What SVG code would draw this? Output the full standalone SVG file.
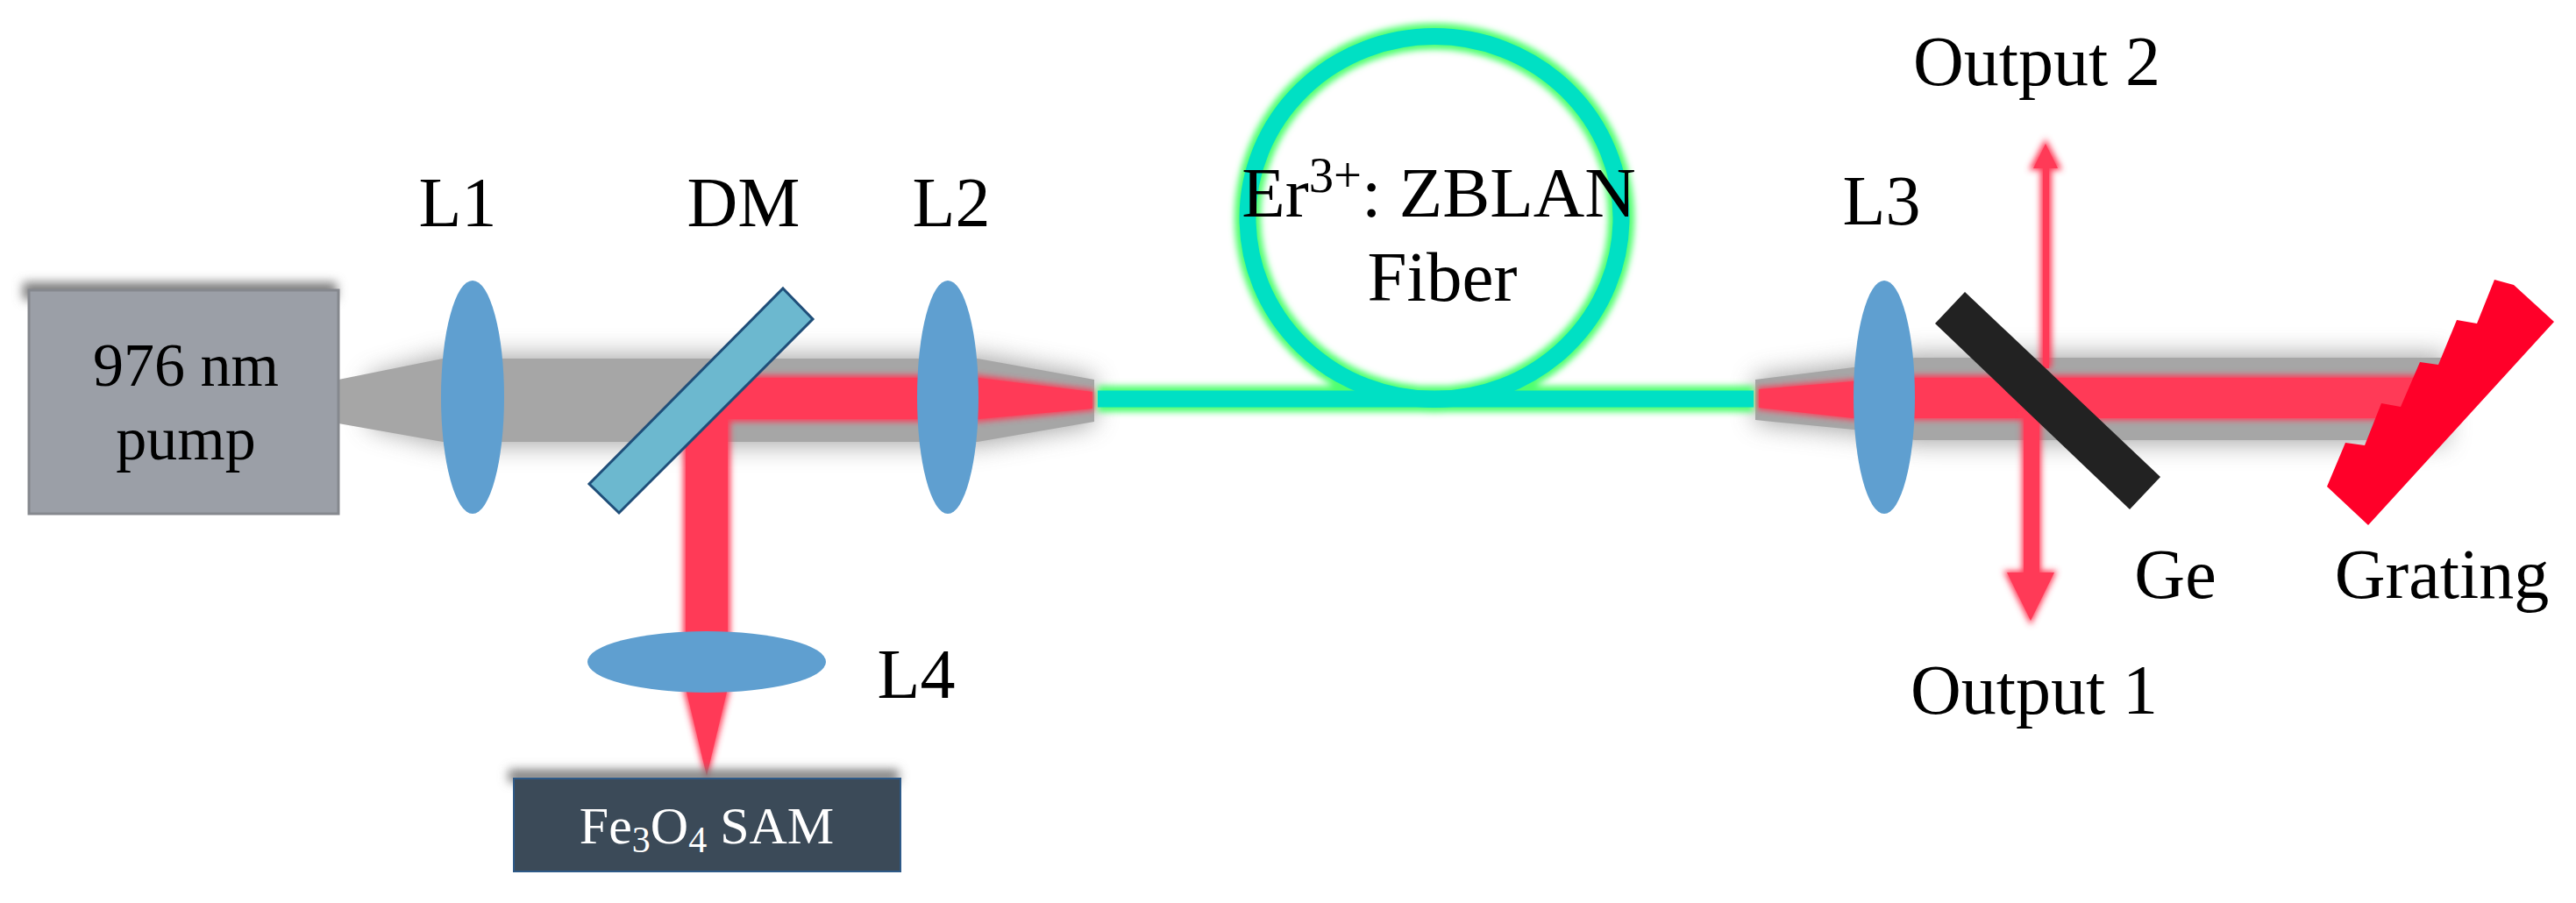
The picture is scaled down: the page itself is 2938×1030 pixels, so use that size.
<svg xmlns="http://www.w3.org/2000/svg" width="2938" height="1030" viewBox="0 0 2938 1030">
<style>
text{font-family:"Liberation Serif","Times New Roman",serif;fill:#000;text-anchor:middle}
.lens{fill:#5f9fd0}
.grey{fill:#a6a6a6}
.red{fill:#ff3a57}
.fib{fill:none;stroke:#00e0c4;stroke-width:19}
.glow{fill:none;stroke:#50ff70;stroke-width:30}
.sub{font-size:70%}
.lab{font-size:80px}
</style>
<defs>
<filter id="soft" x="-20%" y="-60%" width="140%" height="220%"><feGaussianBlur stdDeviation="3.5"/></filter>
<filter id="shadow" x="-10%" y="-80%" width="120%" height="260%"><feGaussianBlur stdDeviation="14"/></filter>
<filter id="boxshadow" x="-10%" y="-100%" width="120%" height="300%"><feGaussianBlur stdDeviation="6"/></filter>
</defs>
<rect width="2938" height="1030" fill="#fff"/>
<g id="connectors">
<g id="shadows" filter="url(#shadow)" fill="#8a8a8a" opacity="0.75">
<path d="M420 430L505 405H1115L1248 430V484L1115 508H505L420 486Z"/>
<path d="M2002 430L2114 415L2184 404H2790V506H2184L2114 494L2002 482Z"/>
</g>
<g id="pump-beam-left">
<path class="grey" d="M386 433L505 409H1115L1248 433V481L1115 504H505L386 483Z"/>
<path class="red" filter="url(#soft)" d="M862 428H1115L1248 445V468L1115 481H833V740H779V470Z"/>
<path class="red" d="M862 431H1115L1246 447V466L1115 478H830V740H782V470Z"/>
<path class="red" filter="url(#soft)" d="M779 785H833L806 892Z"/>
<path class="red" d="M782 785H830L806 885Z"/>
</g>
<g id="beam-right">
<path class="grey" d="M2002 433L2114 419L2184 408H2790V502H2184L2114 490L2002 479Z"/>
<path class="red" filter="url(#soft)" d="M2004 442L2114 433L2184 428H2760V479H2184L2114 479L2004 467Z"/>
<path class="red" d="M2006 444L2114 435L2184 431H2760V477H2184L2114 477L2006 465Z"/>
</g>
<g id="output-2">
<path class="red" filter="url(#soft)" d="M2333 158L2352 194H2340V420H2327V194H2314Z"/>
<path class="red" d="M2333 164L2347 192H2337V420H2330V192H2319Z"/>
</g>
<g id="output-1">
<path class="red" filter="url(#soft)" d="M2306 470H2328V651H2346L2316 713L2285 651H2306Z"/>
<path class="red" d="M2308 470H2326V653H2343L2316 708L2289 653H2308Z"/>
</g>
<g id="fiber-glow" filter="url(#soft)">
<ellipse class="glow" cx="1636" cy="248.500" rx="213" ry="207"/>
<path class="glow" d="M1252 455H2000"/>
</g>
<g id="fiber">
<ellipse class="fib" cx="1636" cy="248.500" rx="213" ry="207"/>
<path class="fib" d="M1252 455H2000"/>
</g>
</g>
<g id="pump">
<rect x="26" y="322" width="358" height="20" fill="#7d7d7d" filter="url(#boxshadow)"/>
<rect x="33" y="331" width="353" height="255" fill="#9b9fa7" stroke="#85888e" stroke-width="3"/>
<text x="212" y="440" font-size="70">976 nm</text>
<text x="212" y="524" font-size="70">pump</text>
</g>
<g id="L1"><ellipse class="lens" cx="539" cy="453" rx="36" ry="133"/><text class="lab" x="522" y="258">L1</text></g>
<g id="DM"><path d="M893 329L927 364L706 585L672 552Z" fill="#6cb8cf" stroke="#1f4e79" stroke-width="3"/><text class="lab" x="848" y="258">DM</text></g>
<g id="L2"><ellipse class="lens" cx="1081" cy="453" rx="35" ry="133"/><text class="lab" x="1085" y="258">L2</text></g>
<g id="L4"><ellipse class="lens" cx="806" cy="755" rx="136" ry="35"/><text class="lab" x="1045" y="796">L4</text></g>
<g id="SAM">
<rect x="580" y="878" width="445" height="14" fill="#777" filter="url(#boxshadow)"/>
<rect x="586" y="888" width="441" height="106" fill="#3b4a58" stroke="#2e5a88" stroke-width="2"/>
<text x="806" y="962" font-size="60" style="fill:#fff">Fe<tspan class="sub" dy="10">3</tspan><tspan dy="-10">O</tspan><tspan class="sub" dy="10">4</tspan><tspan dy="-10"> SAM</tspan></text>
</g>
<g id="fiber-label">
<text x="1641" y="247" font-size="81">Er<tspan class="sub" dy="-28">3+</tspan><tspan dy="28">: ZBLAN</tspan></text>
<text x="1645" y="343" font-size="81">Fiber</text>
</g>
<g id="L3"><ellipse class="lens" cx="2149" cy="453" rx="35" ry="133"/><text class="lab" x="2146" y="256">L3</text></g>
<g id="Ge"><path d="M2241 333L2464 544L2429 581L2207 369Z" fill="#222"/><text class="lab" x="2481" y="682">Ge</text></g>
<g id="grating"><path d="M2845 319L2867 325L2913 367L2701 599L2654 555L2675 505L2697 508L2716 460L2738 464L2760 413L2781 416L2802 365L2825 369Z" fill="#ff0029"/><text class="lab" x="2785" y="682">Grating</text></g>
<g id="output-labels">
<text class="lab" x="2320" y="814">Output 1</text>
<text class="lab" x="2323" y="97">Output 2</text>
</g>
</svg>
